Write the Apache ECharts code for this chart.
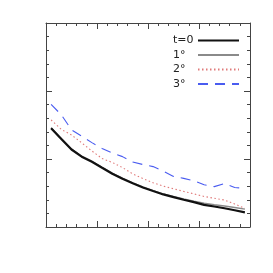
<!DOCTYPE html>
<html><head><meta charset="utf-8">
<script src="https://cdn.jsdelivr.net/npm/echarts@6/dist/echarts.min.js"></script>
<style>html,body{margin:0;padding:0;background:#fff}#c{width:273px;height:273px}</style>
</head><body><div id="c"></div>
<script>
var xValues = [0.1,0.3,0.5,0.7,0.9,1.1,1.3,1.5,1.7,1.9,2.1,2.3,2.5,2.7,2.9,3.1,3.3,3.5,3.7,3.9];
var seriesNames = ['t=0','1°','2°','3°'];
var t0 = [1.451,1.294,1.140,1.034,0.960,0.871,0.784,0.710,0.643,0.581,0.529,0.479,0.440,0.401,0.365,0.326,0.301,0.276,0.246,0.216];
var t1 = [1.458,1.300,1.147,1.041,0.967,0.878,0.791,0.717,0.650,0.588,0.536,0.487,0.449,0.413,0.381,0.350,0.328,0.308,0.287,0.262];
var t2 = [1.574,1.435,1.354,1.238,1.118,1.007,0.949,0.874,0.781,0.713,0.651,0.601,0.562,0.524,0.487,0.449,0.422,0.397,0.338,0.275];
var t3 = [1.804,1.650,1.429,1.335,1.241,1.156,1.087,1.035,0.956,0.919,0.888,0.821,0.744,0.715,0.679,0.622,0.594,0.640,0.581,0.569];

function pairs(ys){ return xValues.map(function(x,i){ return [x, ys[i]]; }); }

var frame = '#444';
function axis(pos, max){
  return {
    type:'value', position: pos, min:0, max:max, interval:1,
    axisLine:{show:true, onZero:false, lineStyle:{color:frame, width:1}},
    axisTick:{show:true, inside:true, length:6, lineStyle:{color:frame, width:1}},
    minorTick:{show:true, splitNumber:5, length:3, lineStyle:{color:frame, width:1}},
    axisLabel:{show:false}, splitLine:{show:false}, minorSplitLine:{show:false}
  };
}

var colors = ['#111','#8a8a8a','#e07a7a','#4a5cf0'];
var chart = echarts.init(document.getElementById('c'), null, {renderer:'canvas'});
chart.setOption({
  animation:false,
  backgroundColor:'#fff',
  color: colors,
  grid:{left:46, top:23, width:204, height:204, containLabel:false},
  xAxis:[axis('bottom',4), axis('top',4)],
  yAxis:[axis('left',3), axis('right',3)],
  legend:{
    orient:'vertical', right:33, top:35, align:'right', padding:0,
    itemWidth:41, itemHeight:10, itemGap:3.5,
    itemStyle:{opacity:0},
    data: seriesNames,
    formatter: function(n){ return '{a|' + n + '}'; },
    textStyle:{fontFamily:'DejaVu Sans', fontSize:11, color:'#222',
      rich:{a:{fontFamily:'DejaVu Sans', fontSize:11, color:'#222', width:20, align:'left'}}}
  },
  series:[
    {name:seriesNames[1], type:'line', data:pairs(t1), symbol:'none', z:2,
     itemStyle:{color:colors[1]}, lineStyle:{color:colors[1], width:1.4}},
    {name:seriesNames[0], type:'line', data:pairs(t0), symbol:'none', z:3,
     itemStyle:{color:colors[0]}, lineStyle:{color:colors[0], width:2.2}},
    {name:seriesNames[2], type:'line', data:pairs(t2), symbol:'none', z:2,
     itemStyle:{color:colors[2]}, lineStyle:{color:colors[2], width:1.1, type:[1.5,2.5]}},
    {name:seriesNames[3], type:'line', data:pairs(t3), symbol:'none', z:2,
     itemStyle:{color:colors[3]}, lineStyle:{color:colors[3], width:1.1, type:[10,7]}}
  ]
});
</script></body></html>
